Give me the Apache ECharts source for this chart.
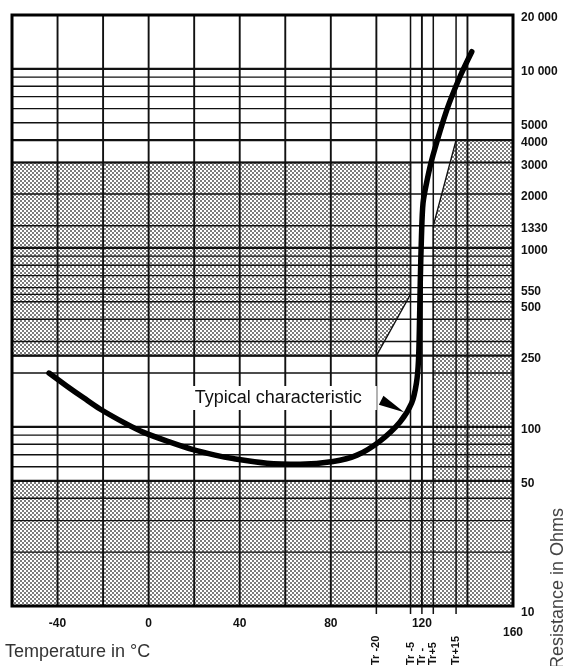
<!DOCTYPE html>
<html><head><meta charset="utf-8">
<script src="https://cdn.jsdelivr.net/npm/echarts@6/dist/echarts.min.js"></script>
<style>html,body{margin:0;padding:0;background:#fff}#c{width:570px;height:666px}</style>
</head><body><div id="c"></div>
<script>
// ---- data ----
const curveT = [-43.75,-35.85,-28.4,-21.35,-10.4,-2.5,9.4,19.5,29.2,37.1,52,66.5,81,91.5,101.6,110.4,115.5,117.6,118.5,118.96,119.3,119.8,120.5,122.3,124.9,130.9,136.7,141.9];
const curveR = [200,169,145,126,105,93.6,82.3,74.7,69.6,66.6,62.8,62,64.1,69.6,83.4,106.5,136,176,236,395,662,1150,1780,2395,3300,5890,9040,12470];
const xTickLabels = [-40,0,40,80,120,160];
const xGrid = [-60,-40,-20,0,20,40,60,80,100,115,120,125,135,140,160];
const trTemps = [100,115,120,125,135];
const trLabels = ['Tr -20','Tr -5','Tr -','Tr+5','Tr+15'];
const yGrid = [20,30,40,50,60,70,80,90,100,200,250,300,400,500,550,600,700,800,900,1000,1330,2000,3000,4000,5000,6000,7000,8000,9000,10000];
const yMajor = [50,100,250,1000,3000,4000,10000];
const yLabels = [10,50,100,250,500,550,1000,1330,2000,3000,4000,5000,10000,20000];
const yLabelText = ['10','50','100','250','500','550','1000','1330','2000','3000','4000','5000','10 000','20 000'];
// forbidden zones (spec limits)
const zoneLowT = [-60,100,115,115,-60];
const zoneLowR = [250,250,550,3000,3000];
const zoneHighT = [-60,160,160,135,125,125,-60];
const zoneHighR = [10,10,4000,4000,1330,50,50];
const noteText = 'Typical characteristic';
const notePos = [18,145];
const arrowBase = [102.1,141];
const arrowTip = [112.2,121];

const T0 = -60, T1 = 160, R0 = 10, R1 = 20000;
const FONT = '"Liberation Sans", Arial, Helvetica, sans-serif';

// dotted halftone pattern
const pc = document.createElement('canvas'); pc.width = 4; pc.height = 4;
const g = pc.getContext('2d');
g.fillStyle = '#fff'; g.fillRect(0,0,4,4);
g.fillStyle = '#7c7c7c'; g.fillRect(0,0,2,2); g.fillRect(2,2,2,2);
const pattern = {image: pc, repeat: 'repeat'};

const zones = [[zoneLowT, zoneLowR],[zoneHighT, zoneHighR]];

const chart = echarts.init(document.getElementById('c'));
chart.setOption({
  animation: false,
  backgroundColor: '#fff',
  grid: {left: 12, top: 15, width: 501, height: 591, containLabel: false},
  xAxis: {
    type: 'value', min: T0, max: T1, interval: 20,
    axisLine: {show: false}, axisTick: {show: false}, splitLine: {show: false},
    axisLabel: {
      margin: 12, color: '#111', fontWeight: 'bold', fontSize: 12, fontFamily: FONT,
      formatter: v => xTickLabels.includes(v) ? (v === 160 ? '{d|160}' : String(v)) : '',
      rich: {d: {padding: [9,0,0,0], fontWeight: 'bold', fontSize: 12, color: '#111', fontFamily: FONT}}
    }
  },
  yAxis: {
    type: 'log', logBase: 10, min: R0, max: R1, position: 'right',
    axisLine: {show: false}, axisTick: {show: false}, axisLabel: {show: false}, splitLine: {show: false}
  },
  graphic: [
    {type: 'text', left: 5, top: 643, style: {text: 'Temperature in °C', fill: '#333', font: '18px ' + FONT}},
    {type: 'text', x: 558, y: 669, rotation: Math.PI / 2,
     style: {text: 'Resistance in Ohms', fill: '#444', font: '18px ' + FONT, align: 'left', verticalAlign: 'middle'}}
  ],
  series: [
    { // shaded zones
      type: 'custom', silent: true, z: 1,
      data: zones.map((z, i) => [z[0][0], z[1][0], i]),
      renderItem(params, api) {
        const z = zones[params.dataIndex];
        const pts = z[0].map((t, k) => api.coord([t, z[1][k]]));
        return {type: 'polygon', shape: {points: pts}, style: {fill: pattern, stroke: '#111', lineWidth: 1.4}};
      }
    },
    { // horizontal grid lines
      type: 'custom', silent: true, z: 3,
      data: yGrid.map(v => [T0, v]),
      renderItem(params, api) {
        const v = yGrid[params.dataIndex];
        const a = api.coord([T0, v]), b = api.coord([T1, v]);
        return {type: 'line', shape: {x1: a[0], y1: a[1], x2: b[0], y2: b[1]},
                style: {stroke: '#111', lineWidth: yMajor.includes(v) ? 2.2 : 1.4}};
      }
    },
    { // vertical grid lines
      type: 'custom', silent: true, z: 3,
      data: xGrid.map(t => [t, R0]),
      renderItem(params, api) {
        const t = xGrid[params.dataIndex];
        const a = api.coord([t, R0]), b = api.coord([t, R1]);
        return {type: 'line', shape: {x1: a[0], y1: a[1], x2: b[0], y2: b[1]},
                style: {stroke: '#111', lineWidth: trTemps.includes(t) && t % 20 ? 1.5 : 1.9}};
      }
    },
    { // Tr ticks and labels
      type: 'custom', silent: true, z: 8,
      data: trTemps.map(t => [t, R0]),
      renderItem(params, api) {
        const t = trTemps[params.dataIndex];
        const a = api.coord([t, R0]);
        return {type: 'group', children: [
          {type: 'line', shape: {x1: a[0], y1: a[1], x2: a[0], y2: a[1] + 8}, style: {stroke: '#111', lineWidth: 1.5}},
          {type: 'text', x: a[0], y: 665, rotation: Math.PI / 2,
           style: {text: trLabels[params.dataIndex], x: 0, y: 0, align: 'left', verticalAlign: 'middle',
                   fill: '#111', font: 'bold 11px ' + FONT}}
        ]};
      }
    },
    { // right-side resistance labels
      type: 'custom', silent: true, z: 8,
      data: yLabels.map(v => [T1, v]),
      renderItem(params, api) {
        const v = yLabels[params.dataIndex];
        const a = api.coord([T1, v]);
        const nudge = v === 550 ? -3 : (v === 500 ? 6 : (v === 10 ? 7 : 3));
        return {type: 'text', x: a[0] + 8, y: a[1] + nudge,
                style: {text: yLabelText[params.dataIndex], align: 'left', verticalAlign: 'middle',
                        fill: '#111', font: 'bold 12px ' + FONT}};
      }
    },
    { // characteristic curve
      type: 'line', z: 5, symbol: 'none', smooth: 0.3, silent: true,
      data: curveT.map((t, i) => [t, curveR[i]]),
      lineStyle: {color: '#000', width: 5.5, cap: 'round', join: 'round'}
    },
    { // annotation
      type: 'custom', silent: true, z: 6,
      data: [notePos],
      renderItem(params, api) {
        const p = api.coord(notePos);
        const b = api.coord(arrowBase), tp = api.coord(arrowTip);
        const dx = tp[0] - b[0], dy = tp[1] - b[1], L = Math.hypot(dx, dy);
        const nx = -dy / L * 5, ny = dx / L * 5;
        return {type: 'group', children: [
          {type: 'text', x: p[0], y: p[1],
           style: {text: noteText, align: 'left', verticalAlign: 'middle', fill: '#111',
                   font: '18px ' + FONT, backgroundColor: '#fff', padding: [3, 15, 3, 5]}},
          {type: 'polygon', shape: {points: [[b[0] + nx, b[1] + ny], tp, [b[0] - nx, b[1] - ny]]},
           style: {fill: '#000'}}
        ]};
      }
    },
    { // frame
      type: 'custom', silent: true, z: 7,
      data: [[T0, R0]],
      renderItem(params, api) {
        const a = api.coord([T0, R1]), b = api.coord([T1, R0]);
        return {type: 'rect', shape: {x: a[0], y: a[1], width: b[0] - a[0], height: b[1] - a[1]},
                style: {fill: 'none', stroke: '#000', lineWidth: 3}};
      }
    }
  ]
});
</script>
</body></html>
